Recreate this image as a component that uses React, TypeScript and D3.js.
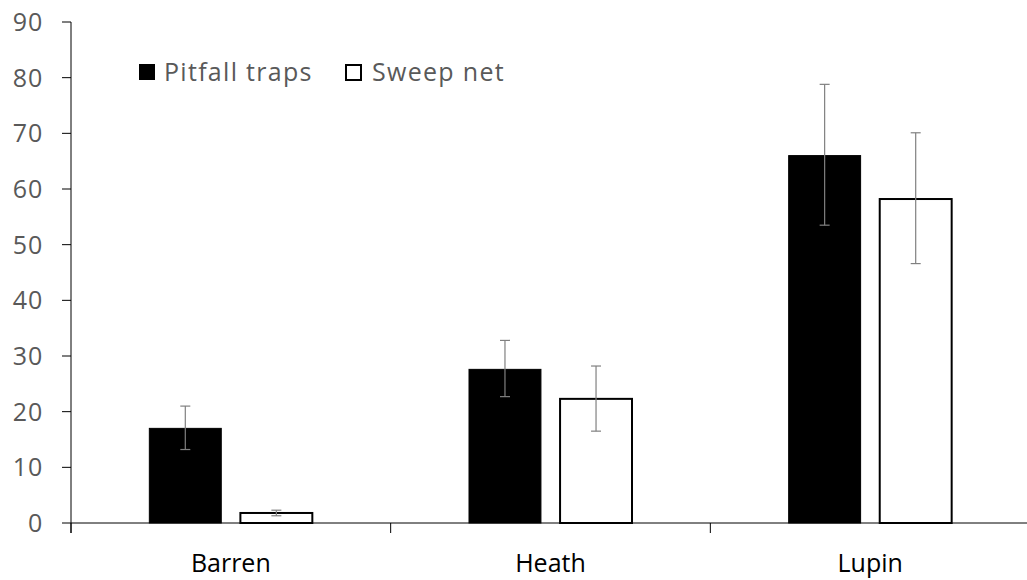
import React from "react";
import * as d3 from "d3";

const categories = ["Barren", "Heath", "Lupin"];
const seriesNames = ["Pitfall traps", "Sweep net"];
const pitfall = [17.0, 27.6, 66.0];
const pitfallLow = [13.2, 22.7, 53.5];
const pitfallHigh = [21.0, 32.8, 78.8];
const sweep = [1.8, 22.3, 58.2];
const sweepLow = [1.3, 16.5, 46.6];
const sweepHigh = [2.3, 28.2, 70.1];
const yTicks = [0, 10, 20, 30, 40, 50, 60, 70, 80, 90];

export default function App() {
  const width = 1027;
  const height = 580;
  const left = 71;
  const right = 1030;
  const top = 22;
  const bottom = 523;

  const x = d3.scaleBand().domain(categories).range([left, right]);
  // pair of bars sits in the middle of each category band
  const pairW = 163;
  const pad = (x.bandwidth() - pairW) / 2;
  const inner = d3.scaleBand().domain(seriesNames).range([pad, pad + pairW]).paddingInner(0.21);
  const y = d3.scaleLinear().domain([0, 90]).range([bottom, top]);

  const series = [
    { name: seriesNames[0], values: pitfall, low: pitfallLow, high: pitfallHigh, fill: "#000" },
    { name: seriesNames[1], values: sweep, low: sweepLow, high: sweepHigh, fill: "#fff" },
  ];

  const font = "Open Sans, sans-serif";
  const fs = 25;
  const boundaries = [0, 1, 2].map((i) => left + i * x.step());

  return (
    <svg width={width} height={height} style={{ position: "absolute", left: 0, top: 0 }}>
      <rect width={width} height={height} fill="#fff" />
      {/* y axis */}
      <line x1={left} x2={left} y1={top} y2={bottom + 10} stroke="#000" strokeWidth={1} />
      {yTicks.map((t) => (
        <g key={t}>
          <line x1={left - 9} x2={left} y1={y(t)} y2={y(t)} stroke="#000" />
          <text x={43} y={y(t)} dy="0.36em" textAnchor="end" fontFamily={font} fontSize={fs} fill="#595959" letterSpacing={0.8}>
            {t}
          </text>
        </g>
      ))}
      {/* bars */}
      {series.map((s) =>
        categories.map((c, i) => {
          const bx = (x(c) as number) + (inner(s.name) as number);
          const bw = inner.bandwidth();
          return (
            <rect
              key={s.name + c}
              x={bx}
              y={y(s.values[i])}
              width={bw}
              height={bottom - y(s.values[i])}
              fill={s.fill}
              stroke="#000"
              strokeWidth={s.fill === "#fff" ? 2 : 1}
            />
          );
        })
      )}
      {/* x axis */}
      <line x1={left} x2={width} y1={bottom} y2={bottom} stroke="#000" />
      {boundaries.map((b, i) => (
        <line key={i} x1={b} x2={b} y1={bottom} y2={bottom + 10} stroke="#000" />
      ))}
      {/* error bars */}
      {series.map((s) =>
        categories.map((c, i) => {
          const cx = (x(c) as number) + (inner(s.name) as number) + inner.bandwidth() / 2;
          return (
            <g key={"e" + s.name + c} stroke="#808080" strokeWidth={1.2}>
              <line x1={cx} x2={cx} y1={y(s.low[i])} y2={y(s.high[i])} />
              <line x1={cx - 5} x2={cx + 5} y1={y(s.low[i])} y2={y(s.low[i])} />
              <line x1={cx - 5} x2={cx + 5} y1={y(s.high[i])} y2={y(s.high[i])} />
            </g>
          );
        })
      )}
      {categories.map((c) => (
        <text
          key={c}
          x={(x(c) as number) + x.bandwidth() / 2}
          y={572}
          textAnchor="middle"
          fontFamily={font}
          fontSize={fs}
          fill="#000"
        >
          {c}
        </text>
      ))}
      {/* legend */}
      <rect x={139} y={64} width={16} height={16} fill="#000" />
      <text x={164} y={81} fontFamily={font} fontSize={fs} fill="#595959" letterSpacing={1.3}>
        {seriesNames[0]}
      </text>
      <rect x={346} y={65} width={15} height={15} fill="#fff" stroke="#000" strokeWidth={2} />
      <text x={372} y={81} fontFamily={font} fontSize={fs} fill="#595959" letterSpacing={1.3}>
        {seriesNames[1]}
      </text>
    </svg>
  );
}
